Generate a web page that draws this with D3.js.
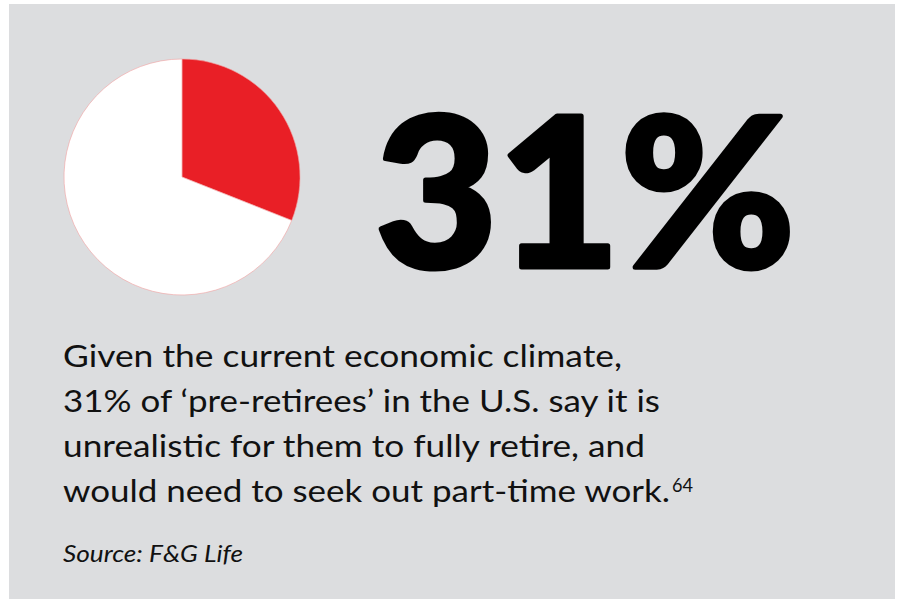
<!DOCTYPE html>
<html>
<head>
<meta charset="utf-8">
<script src="https://cdn.jsdelivr.net/npm/d3@7"></script>
<style>
  html, body { margin: 0; padding: 0; background: #ffffff; }
  svg { display: block; }
</style>
</head>
<body>
<svg id="chart" width="899" height="599"></svg>
<script>
// Share of pre-retirees who say full retirement is unrealistic
const categories = ["Unrealistic to fully retire", "Other"];
const shares = [31, 69];
const sliceColors = ["#e91f26", "#ffffff"];
const headline = "31%";
const bodyLines = [
  "Given the current economic climate,",
  "31% of \u2018pre-retirees\u2019 in the U.S. say it is",
  "unrealistic for them to fully retire, and",
  "would need to seek out part-time work."
];
const footnote = "64";
const sourceText = "Source: F&G Life";

const svg = d3.select("#chart");
const W = 899, H = 599;

// background panel
svg.append("rect")
  .attr("x", 9).attr("y", 4)
  .attr("width", 886).attr("height", H - 4)
  .attr("fill", "#dcdddf");

// pie
const cx = 182, cy = 177, r = 118;
const pie = d3.pie().sort(null).value(d => d)(shares);
const arc = d3.arc().innerRadius(0).outerRadius(r);
const g = svg.append("g").attr("transform", `translate(${cx},${cy})`);
g.selectAll("path")
  .data(pie)
  .join("path")
  .attr("d", arc)
  .attr("fill", (d, i) => sliceColors[i])
  .attr("stroke", "#f2a0a0")
  .attr("stroke-width", 0.6)
  .append("title").text((d, i) => `${categories[i]}: ${d.data}%`);

// headline figure (extra stroke gives a black-weight look)
svg.append("text")
  .attr("x", 375).attr("y", 266.5)
  .attr("font-family", "Lato, 'Open Sans', sans-serif")
  .attr("font-weight", 900)
  .attr("font-size", 208)
  .attr("fill", "#000")
  .attr("stroke", "#000")
  .attr("stroke-width", 5)
  .attr("stroke-linejoin", "round")
  .attr("textLength", 420)
  .attr("lengthAdjust", "spacingAndGlyphs")
  .text(headline);

// body copy
const baselines = [367, 412, 456.5, 501.5];
const widths = [559, 597, 582, 607];
const body = svg.append("g")
  .attr("font-family", "Lato, 'Open Sans', sans-serif")
  .attr("font-size", 31)
  .attr("fill", "#111");
bodyLines.forEach((t, i) => {
  body.append("text")
    .attr("x", 63).attr("y", baselines[i])
    .attr("textLength", widths[i])
    .attr("lengthAdjust", "spacingAndGlyphs")
    .text(t);
});
// footnote marker
body.append("text")
  .attr("x", 672).attr("y", 491.5)
  .attr("font-size", 19)
  .attr("textLength", 21)
  .attr("lengthAdjust", "spacingAndGlyphs")
  .text(footnote);

// source
svg.append("text")
  .attr("x", 63).attr("y", 561.5)
  .attr("font-family", "Lato, 'Open Sans', sans-serif")
  .attr("font-style", "italic")
  .attr("font-size", 24)
  .attr("fill", "#111")
  .attr("textLength", 180)
  .attr("lengthAdjust", "spacingAndGlyphs")
  .text(sourceText);
</script>
</body>
</html>
